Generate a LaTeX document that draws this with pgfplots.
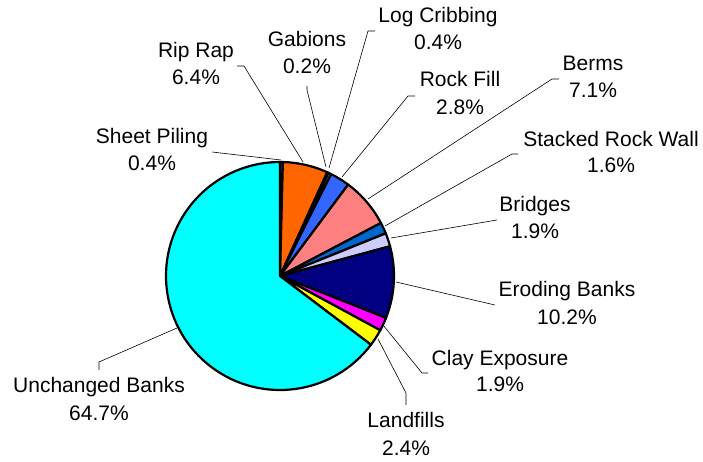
\documentclass[border=0pt]{standalone}
\usepackage{fontspec}
\setmainfont{Liberation Sans}
\usepackage{pgfplots}
\usepackage{pgfplotstable}
\pgfplotsset{compat=1.18}

\definecolor{cSP}{HTML}{9999FF}
\definecolor{cRR}{HTML}{FF6600}
\definecolor{cGA}{HTML}{FFFFCC}
\definecolor{cLC}{HTML}{CCFFFF}
\definecolor{cRF}{HTML}{3366FF}
\definecolor{cBE}{HTML}{FF8080}
\definecolor{cSR}{HTML}{0066CC}
\definecolor{cBR}{HTML}{CCCCFF}
\definecolor{cEB}{HTML}{000080}
\definecolor{cCE}{HTML}{FF00FF}
\definecolor{cLF}{HTML}{FFFF00}
\definecolor{cUB}{HTML}{00FFFF}

\pgfplotstableread[col sep=comma]{
label,value,color
Sheet Piling,0.4,cSP
Rip Rap,6.4,cRR
Gabions,0.2,cGA
Log Cribbing,0.4,cLC
Rock Fill,2.8,cRF
Berms,7.1,cBE
Stacked Rock Wall,1.6,cSR
Bridges,1.9,cBR
Eroding Banks,10.2,cEB
Clay Exposure,1.9,cCE
Landfills,2.4,cLF
Unchanged Banks,64.7,cUB
}\piedata

\newcommand\lf{\fontsize{21bp}{25bp}\selectfont}

\begin{document}
\begin{tikzpicture}
\useasboundingbox (0,0) rectangle (703bp,462bp);
\begin{axis}[
  at={(0,0)}, anchor=origin,
  scale only axis, width=703bp, height=462bp,
  xmin=0, xmax=703, ymin=0, ymax=462,
  hide axis, clip=false,
]
\gdef\cum{0}
\pgfplotsinvokeforeach{0,...,11}{
  \pgfplotstablegetelem{#1}{value}\of\piedata
  \let\val\pgfplotsretval
  \pgfplotstablegetelem{#1}{color}\of\piedata
  \let\col\pgfplotsretval
  \pgfmathsetmacro\sa{90-3.6*\cum}
  \pgfmathsetmacro\ea{90-3.6*(\cum+\val)}
  \edef\slice{\noexpand\filldraw[fill=\col,draw=black,line width=2.2bp,line join=round]
    (axis cs:280,186) -- ++(\sa:114bp) arc[start angle=\sa,end angle=\ea,radius=114bp] -- cycle;}
  \slice
  \pgfmathparse{\cum+\val}\xdef\cum{\pgfmathresult}
}

% leader lines
\pgfplotsset{leader/.style={black, line width=0.6bp, mark=none, forget plot}}
\addplot[leader] coordinates {(212,310) (281,302)};
\addplot[leader] coordinates {(237,396) (244,396) (303,300)};
\addplot[leader] coordinates {(307,376) (307,372) (326,295)};
\addplot[leader] coordinates {(375,431) (368,431) (329,294)};
\addplot[leader] coordinates {(415,366) (408,366) (342,285)};
\addplot[leader] coordinates {(559,383) (552,383) (368,263)};
\addplot[leader] coordinates {(518,308) (512,308) (385,236)};
\addplot[leader] coordinates {(497,242) (391,224)};
\addplot[leader] coordinates {(396,180) (495,157)};
\addplot[leader] coordinates {(383,137) (422,89) (428,89)};
\addplot[leader] coordinates {(378,123) (406,69) (406,57)};
\addplot[leader] coordinates {(177,134) (99,100) (99,92)};

% labels
\tikzset{lab/.style={anchor=base, inner sep=0pt, font=\lf}}
\node[lab] at (axis cs:152,318) {Sheet Piling};
\node[lab] at (axis cs:152,291) {0.4\%};
\node[lab] at (axis cs:196,404) {Rip Rap};
\node[lab] at (axis cs:196,377) {6.4\%};
\node[lab] at (axis cs:307,415) {Gabions};
\node[lab] at (axis cs:307,388) {0.2\%};
\node[lab] at (axis cs:438,439) {Log Cribbing};
\node[lab] at (axis cs:438,412) {0.4\%};
\node[lab] at (axis cs:460,375) {Rock Fill};
\node[lab] at (axis cs:460,347) {2.8\%};
\node[lab] at (axis cs:593,391) {Berms};
\node[lab] at (axis cs:593,364) {7.1\%};
\node[lab] at (axis cs:611,315) {Stacked Rock Wall};
\node[lab] at (axis cs:611,289) {1.6\%};
\node[lab] at (axis cs:535,250) {Bridges};
\node[lab] at (axis cs:535,223) {1.9\%};
\node[lab] at (axis cs:567,165) {Eroding Banks};
\node[lab] at (axis cs:567,137) {10.2\%};
\node[lab] at (axis cs:500,96) {Clay Exposure};
\node[lab] at (axis cs:500,70) {1.9\%};
\node[lab] at (axis cs:99,69) {Unchanged Banks};
\node[lab] at (axis cs:99,41) {64.7\%};
\node[lab] at (axis cs:406,34) {Landfills};
\node[lab] at (axis cs:406,7) {2.4\%};
\end{axis}
\end{tikzpicture}
\end{document}
